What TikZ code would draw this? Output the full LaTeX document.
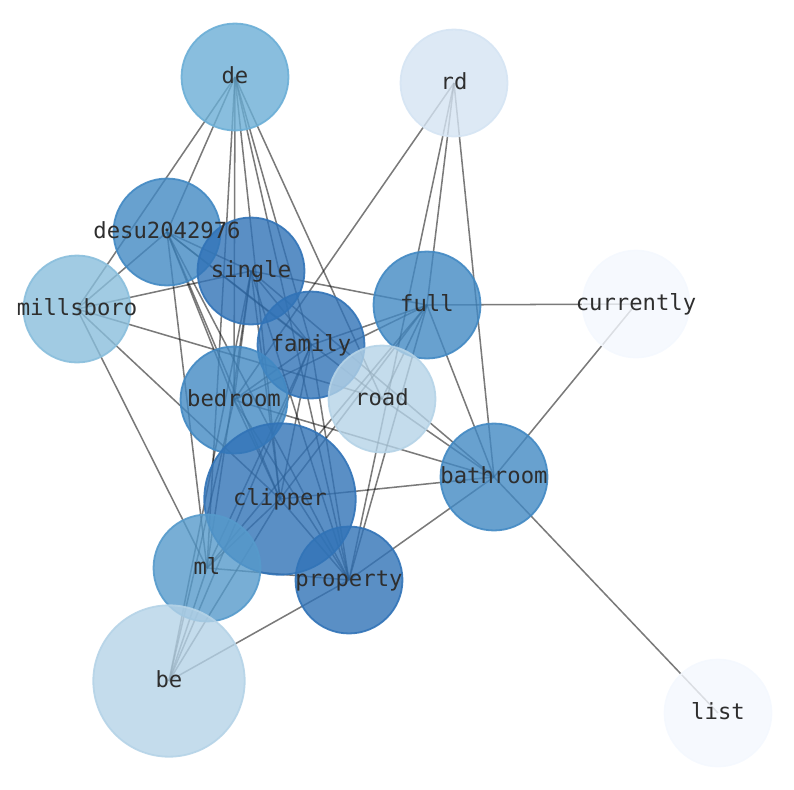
\documentclass[tikz,border=0pt]{standalone}
\usepackage{fontspec}
\setmonofont{DejaVu Sans Mono}
\usepackage{tikz}
\usetikzlibrary{calc}

\pgfdeclarelayer{background}
\pgfdeclarelayer{foreground}
\pgfsetlayers{background,main,foreground}

\definecolor{blue0}{HTML}{F4F8FE}
\definecolor{blue1}{HTML}{D5E4F3}
\definecolor{blue2}{HTML}{B5D3E7}
\definecolor{blue3}{HTML}{89BEDC}
\definecolor{blue4}{HTML}{6BAED6}
\definecolor{blue5}{HTML}{569ACB}
\definecolor{blue6}{HTML}{4289C3}
\definecolor{blue7}{HTML}{3173B7}

\begin{document}
\begin{tikzpicture}
      [
        x=0.72pt, y=-0.72pt,
        word/.style={circle, draw=#1, fill=#1, fill opacity=0.8, draw opacity=0.9, line width=1.3pt, inner sep=0pt},
        lbl/.style={font=\fontsize{16}{16}\selectfont\ttfamily, text=black!82, text height=13pt, text depth=3pt, inner sep=0pt},
        link/.style={draw=black, draw opacity=0.52, line width=1.1pt}
      ]
      \useasboundingbox (0,0) rectangle (794,790);
      % words
      \foreach \n/\x/\y/\c/\s in {
          de/235/77/blue4/77, rd/454/83/blue1/77, desu2042976/167/232/blue6/77,
          single/251/271/blue7/77, millsboro/77/309/blue3/77, full/427/305/blue6/77,
          currently/636/304/blue0/77, family/311/345/blue7/77, road/382/399/blue2/77,
          bedroom/234/400/blue6/77, bathroom/494/477/blue6/77, clipper/280/499/blue7/109,
          ml/207/568/blue5/77, property/349/580/blue7/77, be/169/681/blue2/109,
          list/718/713/blue0/77} {
          \node [word=\c, minimum size=\s pt] (\n) at (\x,\y) {};
      }
      % links
      \begin{pgfonlayer}{background}
      \foreach \a/\b in {
          de/millsboro, de/desu2042976, de/ml, de/bedroom, de/clipper, de/family, de/road, de/property,
          rd/bedroom, rd/full, rd/property, rd/bathroom,
          currently/full, currently/bathroom, list/bathroom,
          millsboro/single, millsboro/road, millsboro/clipper, millsboro/ml, millsboro/desu2042976,
          desu2042976/single, desu2042976/family, desu2042976/road, desu2042976/ml,
          desu2042976/bedroom, desu2042976/clipper, desu2042976/property,
          single/full, single/family, single/bathroom, single/property, single/clipper,
          single/ml, single/be, single/bedroom,
          full/bathroom, full/family, full/bedroom, full/clipper, full/ml, full/road, full/property,
          family/bedroom, family/clipper, family/ml, family/property, family/be,
          bedroom/bathroom, bedroom/clipper, bedroom/property, bedroom/be,
          bathroom/property, bathroom/clipper, bathroom/road,
          clipper/be, clipper/ml, clipper/property,
          ml/property, ml/be, property/be} {
          \draw [link] (\a.center) -- (\b.center);
      }
      \end{pgfonlayer}
      % labels
      \begin{pgfonlayer}{foreground}
      \foreach \n in {de, rd, desu2042976, single, millsboro, full, currently, family,
          road, bedroom, bathroom, clipper, ml, property, be, list} {
          \node [lbl] (\n-lbl) at (\n) {\n};
      }
      \end{pgfonlayer}
\end{tikzpicture}
\end{document}
